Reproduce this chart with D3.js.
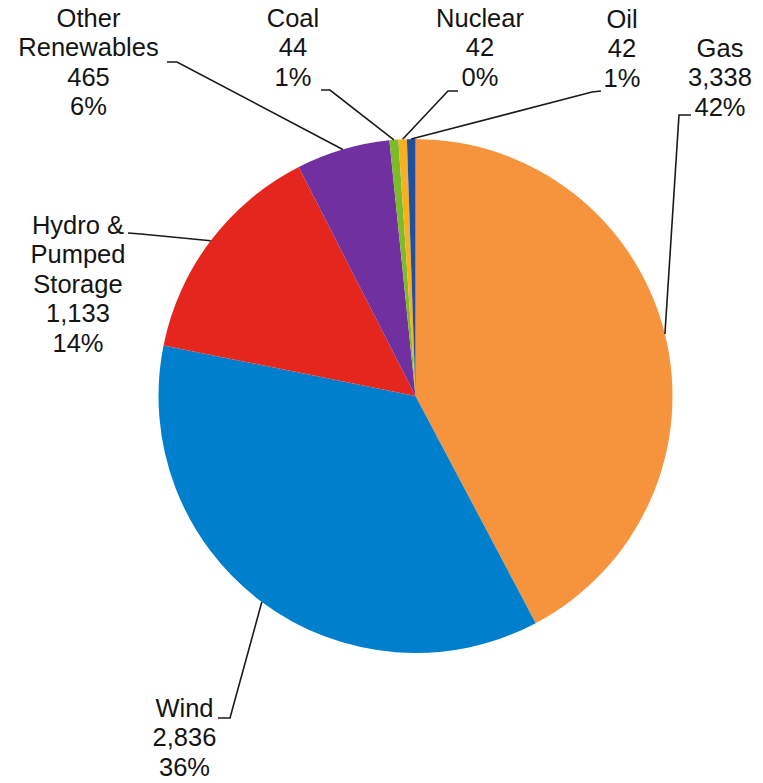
<!DOCTYPE html>
<html>
<head>
<meta charset="utf-8">
<script src="https://cdn.jsdelivr.net/npm/d3@7"></script>
<style>
  html, body { margin: 0; padding: 0; background: #fff; }
  svg { display: block; }
  text { font-family: "Liberation Sans", Arial, sans-serif; fill: #141414; }
</style>
</head>
<body>
<svg id="chart" width="763" height="783"></svg>
<script>
// Generation by fuel type (slices drawn clockwise from 12 o'clock)
const categories = ["Gas", "Wind", "Hydro & Pumped Storage", "Other Renewables", "Coal", "Nuclear", "Oil"];
const labelLines = [["Gas"], ["Wind"], ["Hydro &", "Pumped", "Storage"], ["Other", "Renewables"], ["Coal"], ["Nuclear"], ["Oil"]];
const values = [3338, 2836, 1133, 465, 44, 42, 42];
const percentLabels = ["42%", "36%", "14%", "6%", "1%", "0%", "1%"];
const colors = ["#F5943C", "#0080CC", "#E5261E", "#7030A0", "#7DBB2A", "#F8B020", "#1E4FA0"];

// Label placement: text centre x, first-line y, and the leader's elbow / end points
const labelLayout = [
  { x: 720, y: 48,  elbow: [679, 115], end: [691, 115] },
  { x: 184.5, y: 708, elbow: [230, 718], end: [218, 718] },
  { x: 78,  y: 225, elbow: [141, 234], end: [128, 233] },
  { x: 88.5, y: 18, elbow: [177, 62],  end: [167, 62] },
  { x: 293, y: 18,  elbow: [330, 90],  end: [321, 90] },
  { x: 480, y: 18,  elbow: [448, 91],  end: [458, 91] },
  { x: 622, y: 19,  elbow: [592, 92],  end: [601, 91] }
];

const cx = 415.5, cy = 396, radius = 257;
const lineH = 29.5;
const fmt = d3.format(",");

const svg = d3.select("#chart");

const pie = d3.pie().sort(null).value(d => d.value);
const data = categories.map((c, i) => ({ name: c, value: values[i], idx: i }));
const arcs = pie(data);

const arc = d3.arc().innerRadius(0).outerRadius(radius);
const edge = d3.arc().innerRadius(radius).outerRadius(radius);

const g = svg.append("g").attr("transform", `translate(${cx},${cy})`);

g.selectAll("path.slice")
  .data(arcs)
  .join("path")
  .attr("class", "slice")
  .attr("d", arc)
  .attr("fill", d => colors[d.data.idx]);

// Leader lines from the slice's outer edge at its mid-angle
const line = d3.line();
svg.append("g")
  .selectAll("path.leader")
  .data(arcs)
  .join("path")
  .attr("class", "leader")
  .attr("fill", "none")
  .attr("stroke", "#1a1a1a")
  .attr("stroke-width", 1.6)
  .attr("d", d => {
    const c = edge.centroid(d);
    const L = labelLayout[d.data.idx];
    return line([[cx + c[0], cy + c[1]], L.elbow, L.end]);
  });

// Category labels: name lines, value, share
const labels = svg.append("g")
  .selectAll("text.label")
  .data(arcs)
  .join("text")
  .attr("class", "label")
  .attr("text-anchor", "middle")
  .attr("font-size", 25.5);

labels.each(function (d) {
  const i = d.data.idx;
  const L = labelLayout[i];
  const lines = labelLines[i].concat([fmt(values[i]), percentLabels[i]]);
  d3.select(this).selectAll("tspan")
    .data(lines)
    .join("tspan")
    .attr("x", L.x)
    .attr("y", (t, k) => L.y + k * lineH)
    .attr("dy", "0.35em")
    .text(t => t);
});
</script>
</body>
</html>
